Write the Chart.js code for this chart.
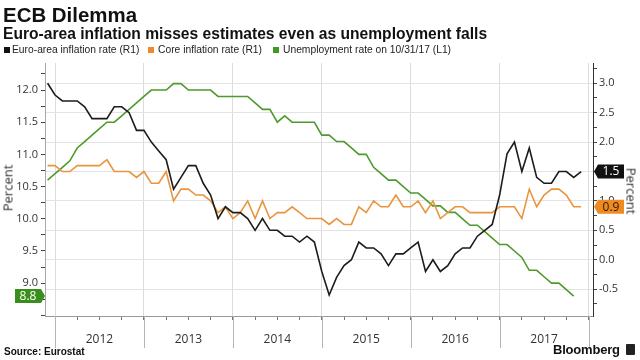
<!DOCTYPE html>
<html><head><meta charset="utf-8">
<script src="https://cdn.jsdelivr.net/npm/chart.js@4.4.0/dist/chart.umd.min.js"></script>
<style>
html,body{margin:0;padding:0;background:#fff;}
#wrap{position:relative;width:640px;height:360px;overflow:hidden;font-family:"Liberation Sans",Arial,sans-serif;color:#111;}
#c{position:absolute;left:0;top:0;}
.t{position:absolute;white-space:nowrap;line-height:1;pointer-events:none;}
#title{left:3px;top:5px;font-size:20px;font-weight:bold;}
#sub{left:3px;top:26px;font-size:14px;font-weight:bold;}
.lg{top:45px;font-size:10px;color:#222;}
.sw{position:absolute;width:6px;height:6px;top:47px;}
.pc{font-family:"Open Sans",sans-serif;font-size:13px;color:#333;}
#src{left:4px;top:347px;font-size:10px;font-weight:bold;}
#bbg{left:553px;top:343px;font-size:13px;font-weight:bold;letter-spacing:-0.2px;}
#ico{position:absolute;left:626px;top:344px;width:9px;height:11px;background:#222;border-radius:1px;}
</style></head>
<body>
<div id="wrap">
<canvas id="c" width="640" height="360"></canvas>
<div class="t" id="title">ECB Dilemma</div>
<div class="t" id="sub">Euro-area inflation misses estimates even as unemployment falls</div>
<div class="sw" style="left:4px;background:#111;"></div>
<div class="t lg" id="lg1" style="left:12px;">Euro-area inflation rate (R1)</div>
<div class="sw" style="left:148px;background:#F0892A;"></div>
<div class="t lg" id="lg2" style="left:158px;">Core inflation rate (R1)</div>
<div class="sw" style="left:273px;background:#3F9A1F;"></div>
<div class="t lg" id="lg3" style="left:283px;">Unemployment rate on 10/31/17 (L1)</div>
<div class="t pc" style="left:8px;top:188px;transform:translate(-50%,-50%) rotate(-90deg);">Percent</div>
<div class="t pc" style="left:631px;top:191px;transform:translate(-50%,-50%) rotate(90deg);">Percent</div>
<div class="t" id="src">Source: Eurostat</div>
<div class="t" id="bbg">Bloomberg</div>
<div id="ico"></div>
</div>
<script>
// ---- data (monthly, Nov 2011 .. Nov 2017) ----
const firstMonth = {year: 2011, month: 11};
const yearLabels = ['2012', '2013', '2014', '2015', '2016', '2017'];
const inflation = [3.0, 2.8, 2.7, 2.7, 2.7, 2.6, 2.4, 2.4, 2.4, 2.6, 2.6, 2.5, 2.2, 2.2,
  2.0, 1.85, 1.7, 1.2, 1.4, 1.6, 1.6, 1.3, 1.1, 0.7, 0.9, 0.8,
  0.8, 0.7, 0.5, 0.7, 0.5, 0.5, 0.4, 0.4, 0.3, 0.4, 0.3, -0.2,
  -0.6, -0.3, -0.1, 0.0, 0.3, 0.2, 0.2, 0.1, -0.1, 0.1, 0.1, 0.2,
  0.3, -0.2, 0.0, -0.2, -0.1, 0.1, 0.2, 0.2, 0.4, 0.5, 0.6, 1.1,
  1.8, 2.0, 1.5, 1.9, 1.4, 1.3, 1.3, 1.5, 1.5, 1.4, 1.5];
const coreInflation = [1.6, 1.6, 1.5, 1.5, 1.6, 1.6, 1.6, 1.6, 1.7, 1.5, 1.5, 1.5, 1.4, 1.5,
  1.3, 1.3, 1.5, 1.0, 1.2, 1.2, 1.1, 1.1, 1.0, 0.8, 0.9, 0.7,
  0.8, 1.0, 0.7, 1.0, 0.7, 0.8, 0.8, 0.9, 0.8, 0.7, 0.7, 0.7,
  0.6, 0.7, 0.6, 0.6, 0.9, 0.8, 1.0, 0.9, 0.9, 1.1, 0.9, 0.9,
  1.0, 0.8, 1.0, 0.7, 0.8, 0.9, 0.9, 0.8, 0.8, 0.8, 0.8, 0.9,
  0.9, 0.9, 0.7, 1.2, 0.9, 1.1, 1.2, 1.2, 1.1, 0.9, 0.9];
const unemployment = [10.6, 10.7, 10.8, 10.9, 11.1, 11.2, 11.3, 11.4, 11.5, 11.5, 11.6, 11.7, 11.8, 11.9,
  12.0, 12.0, 12.0, 12.1, 12.1, 12.0, 12.0, 12.0, 12.0, 11.9, 11.9, 11.9,
  11.9, 11.9, 11.8, 11.7, 11.7, 11.5, 11.6, 11.5, 11.5, 11.5, 11.5, 11.3,
  11.3, 11.2, 11.2, 11.1, 11.0, 11.0, 10.8, 10.7, 10.6, 10.6, 10.5, 10.4,
  10.4, 10.3, 10.2, 10.2, 10.1, 10.1, 10.0, 9.9, 9.9, 9.8, 9.7, 9.6,
  9.6, 9.5, 9.4, 9.2, 9.2, 9.1, 9.0, 9.0, 8.9, 8.8];

// month labels; x position = months after 1 Jan 2012, at month end
const monthLabels = inflation.map((_, i) => {
  const t = firstMonth.year * 12 + firstMonth.month - 1 + i;
  return Math.floor(t / 12) + '-' + String(t % 12 + 1).padStart(2, '0');
});
const monthPos = (i) => i - 1;
const toPts = (arr) => arr.map((v, i) => ({x: monthPos(i), y: v}));

// fit header text widths
function fitW(id, target){
  const el = document.getElementById(id);
  const fs = parseFloat(getComputedStyle(el).fontSize);
  const w = el.getBoundingClientRect().width;
  el.style.fontSize = (fs * target / w) + 'px';
  return fs * target / w;
}
function fitAll(){
  fitW('title', 134);
  fitW('sub', 484);
  const s = fitW('lg3', 168);
  document.getElementById('lg1').style.fontSize = s + 'px';
  document.getElementById('lg2').style.fontSize = s + 'px';
}
fitAll();

const tickFont = {family: '"Open Sans", sans-serif', size: 11};
const yearBounds = [0, 12, 24, 36, 48, 60, 72];

const decor = {
  id: 'decor',
  afterDraw(chart){
    const {ctx, chartArea: a, scales} = chart;
    const x = scales.x, yL = scales.yL, yR = scales.yR;
    ctx.save();
    ctx.strokeStyle = '#b5b5b5'; ctx.lineWidth = 1;
    yearBounds.forEach(m => {
      const px = Math.round(x.getPixelForValue(m)) + 0.5;
      ctx.beginPath(); ctx.moveTo(px, a.bottom); ctx.lineTo(px, a.bottom + 32); ctx.stroke();
    });
    function tag(side, tipX, y, text, bg, fg){
      const h = 14, w = 26, ar = 4;
      const dir = side === 'right' ? 1 : -1;
      ctx.beginPath();
      ctx.moveTo(tipX, y);
      ctx.lineTo(tipX + dir*ar, y - h/2);
      ctx.lineTo(tipX + dir*(ar + w), y - h/2);
      ctx.lineTo(tipX + dir*(ar + w), y + h/2);
      ctx.lineTo(tipX + dir*ar, y + h/2);
      ctx.closePath();
      ctx.fillStyle = bg; ctx.fill();
      ctx.fillStyle = fg;
      ctx.font = '12px "Open Sans", sans-serif';
      ctx.textAlign = 'center'; ctx.textBaseline = 'middle';
      ctx.fillText(text, tipX + dir*(ar + w/2), y + 0.5);
    }
    const li = inflation[inflation.length - 1];
    const lc = coreInflation[coreInflation.length - 1];
    const lu = unemployment[unemployment.length - 1];
    tag('right', a.right + 1, yR.getPixelForValue(li), li.toFixed(1), '#111111', '#ffffff');
    tag('right', a.right + 1, yR.getPixelForValue(lc), lc.toFixed(1), '#EE8A22', '#2a1a00');
    tag('left', a.left, yL.getPixelForValue(lu), lu.toFixed(1), '#3A8E1C', '#ffffff');
    ctx.restore();
  }
};

const onHalf = (v) => Math.abs(v * 2 - Math.round(v * 2)) < 1e-6;
const quarterTicks = (from, to, step) => { const r = []; for (let v = from; v <= to + 1e-9; v += step) r.push({value: Math.round(v * 100) / 100}); return r; };

new Chart(document.getElementById('c'), {
  type: 'line',
  data: {
    labels: monthLabels,
    datasets: [
      {label: 'Euro-area inflation rate (R1)', data: toPts(inflation), yAxisID: 'yR', borderColor: '#1c1c1c', borderWidth: 1.6, pointRadius: 0, tension: 0},
      {label: 'Core inflation rate (R1)', data: toPts(coreInflation), yAxisID: 'yR', borderColor: '#E9953D', borderWidth: 1.6, pointRadius: 0, tension: 0},
      {label: 'Unemployment rate on 10/31/17 (L1)', data: toPts(unemployment), yAxisID: 'yL', borderColor: '#4E9A2C', borderWidth: 1.6, pointRadius: 0, tension: 0}
    ]
  },
  options: {
    responsive: false,
    animation: false,
    devicePixelRatio: 1,
    layout: {padding: {top: 63, left: 0, right: 0, bottom: 0}},
    plugins: {legend: {display: false}, title: {display: false}, tooltip: {enabled: false}},
    scales: {
      x: {
        type: 'linear', min: -1.35, max: 72.6,
        afterBuildTicks: (s) => { s.ticks = quarterTicks(0, 72, 3); },
        afterFit: (s) => { s.height = 44; },
        grid: {
          color: (c) => (c.tick && c.tick.value % 12 === 0) ? '#dcdcdc' : 'rgba(0,0,0,0)',
          tickColor: '#777', tickLength: 4, drawTicks: true
        },
        border: {display: true, color: '#9a9a9a'},
        ticks: {
          autoSkip: false, maxRotation: 0, minRotation: 0, padding: 12,
          font: {family: '"Open Sans", sans-serif', size: 12}, color: '#333',
          callback: (v) => (v % 12 === 6) ? yearLabels[(v - 6) / 12] : ''
        }
      },
      yL: {
        type: 'linear', position: 'left', min: 8.49, max: 12.42,
        afterBuildTicks: (s) => { s.ticks = quarterTicks(8.5, 12.25, 0.25); },
        afterFit: (s) => { s.width = 45; },
        grid: {drawOnChartArea: false, drawTicks: true, tickLength: 4, tickColor: '#444'},
        border: {display: true, color: '#a8a8a8'},
        ticks: {autoSkip: false, padding: 3, font: tickFont, color: '#333',
          callback: (v) => (onHalf(v) && v >= 9) ? v.toFixed(1) : ''}
      },
      yR: {
        type: 'linear', position: 'right', min: -0.957, max: 3.345,
        afterBuildTicks: (s) => { s.ticks = quarterTicks(-0.75, 3.25, 0.25); },
        afterFit: (s) => { s.width = 47; },
        grid: {
          drawOnChartArea: true, drawTicks: true, tickLength: 4, tickColor: '#444',
          color: (c) => (c.tick && onHalf(c.tick.value)) ? '#e3e3e3' : 'rgba(0,0,0,0)'
        },
        border: {display: true, color: '#333'},
        ticks: {autoSkip: false, padding: 2, font: tickFont, color: '#333',
          callback: (v) => onHalf(v) ? v.toFixed(1) : ''}
      }
    }
  },
  plugins: [decor]
});
if (document.fonts && document.fonts.ready) document.fonts.ready.then(fitAll);
</script>
</body></html>
